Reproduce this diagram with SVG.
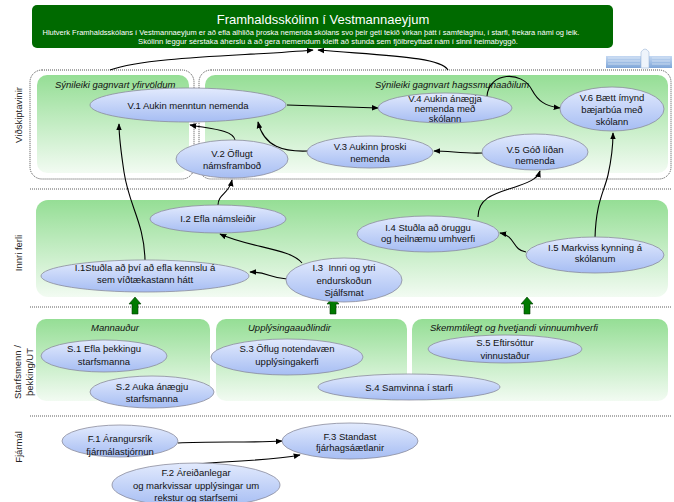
<svg xmlns="http://www.w3.org/2000/svg" width="674" height="502" viewBox="0 0 674 502">
<defs>
<linearGradient id="pg" x1="0" y1="0" x2="0" y2="1"><stop offset="0" stop-color="#95de95"/><stop offset="1" stop-color="#f2fbf2"/></linearGradient>
<linearGradient id="eg" x1="0" y1="0" x2="0" y2="1"><stop offset="0" stop-color="#e2eafd"/><stop offset="1" stop-color="#a6bdf3"/></linearGradient>
<linearGradient id="bg" x1="0" y1="0" x2="0" y2="1"><stop offset="0" stop-color="#c4d8f2"/><stop offset="1" stop-color="#7fa6d8"/></linearGradient>
<marker id="ah" viewBox="0 0 10 10" refX="9" refY="5" markerWidth="7" markerHeight="7" markerUnits="userSpaceOnUse" orient="auto"><path d="M0,1 L10,5 L0,9 z" fill="#000"/></marker>
<style>
text{font-family:"Liberation Sans",Arial,sans-serif;}
.e{fill:url(#eg);stroke:#8a8c9c;stroke-width:0.8;}
.t{font-size:9.5px;fill:#111;text-anchor:middle;}
.p{fill:url(#pg);stroke:none;}
.pl{font-size:9.5px;font-style:italic;fill:#111;}
.sep{stroke:#333;stroke-width:0.8;stroke-dasharray:1,1;fill:none;}
.db{stroke:#222;stroke-width:0.8;stroke-dasharray:1,1;fill:none;}
.c{fill:none;stroke:#000;stroke-width:1.1;marker-end:url(#ah);}
.lab{font-size:9.5px;fill:#222;text-anchor:middle;}
.ga{fill:#007a00;stroke:#003a00;stroke-width:0.6;}
</style>
</defs>

<g id="header">
<rect x="32" y="5" width="581" height="43" rx="5" fill="#006a00"/>
<text x="323" y="24" font-size="13px" fill="#fff" text-anchor="middle">Framhaldsskólinn í Vestmannaeyjum</text>
<text x="311" y="35" font-size="7.5px" fill="#fff" text-anchor="middle">Hlutverk Framhaldsskólans í Vestmannaeyjum er að efla alhliða þroska nemenda skólans svo þeir geti tekið virkan þátt í samfélaginu, í starfi, frekara námi og leik.</text>
<text x="328" y="44" font-size="7.7px" fill="#fff" text-anchor="middle">Skólinn leggur sérstaka áherslu á að gera nemendum kleift að stunda sem fjölbreyttast nám í sinni heimabyggð.</text>
</g>

<g id="building">
<rect x="606" y="56" width="66" height="12" fill="url(#bg)"/>
<path d="M608,58 H640 M608,61 H640 M608,64 H640 M652,58 H670 M652,61 H670 M652,64 H670" stroke="#e8f0fa" stroke-width="0.6"/>
<path d="M641,68 V52 Q645,46 649,52 V68 z" fill="#eef4fb" stroke="#9fb8da" stroke-width="0.6"/>
</g>

<g id="separators">
<line class="sep" x1="30" y1="189" x2="672" y2="189"/>
<line class="sep" x1="30" y1="307" x2="672" y2="307"/>
<line class="sep" x1="30" y1="416" x2="672" y2="416"/>
</g>

<g id="row-labels">
<text class="lab" transform="translate(22,115) rotate(-90)">Viðskiptavinir</text>
<text class="lab" transform="translate(22,253) rotate(-90)">Innri ferli</text>
<text class="lab" transform="translate(21,372) rotate(-90)">Starfsmenn /</text>
<text class="lab" transform="translate(33,372) rotate(-90)">þekking/UT</text>
<text class="lab" transform="translate(22,447) rotate(-90)">Fjármál</text>
</g>

<g id="panels">
<rect class="db" x="30" y="70" width="164" height="109" rx="12"/>
<rect class="db" x="199" y="70" width="472" height="109" rx="12"/>
<rect class="p" x="37" y="75" width="152" height="98" rx="10"/>
<rect class="p" x="205" y="75" width="463" height="98" rx="10"/>
<text class="pl" x="55" y="88">Sýnileiki gagnvart yfirvöldum</text>
<text class="pl" x="375" y="88">Sýnileiki gagnvart hagssmunaaðilum</text>
<rect class="p" x="36" y="200" width="632" height="97" rx="12"/>
<rect class="p" x="36" y="319" width="174" height="82" rx="10"/>
<rect class="p" x="216" y="319" width="191" height="82" rx="10"/>
<rect class="p" x="412" y="319" width="256" height="82" rx="10"/>
<text class="pl" x="115" y="331" text-anchor="middle">Mannauður</text>
<text class="pl" x="248" y="331">Upplýsingaauðlindir</text>
<text class="pl" x="430" y="331">Skemmtilegt og hvetjandi vinnuumhverfi</text>
</g>

<g id="up-arrows">
<path class="ga" d="M135,297 L141,304 L138,304 L138,314 L132,314 L132,304 L129,304 z"/>
<path class="ga" d="M333,297 L339,304 L336,304 L336,314 L330,314 L330,304 L327,304 z"/>
<path class="ga" d="M527,297 L533,304 L530,304 L530,314 L524,314 L524,304 L521,304 z"/>
</g>

<g id="connectors">
<path class="c" d="M110,70 C150,56 250,56 313,50"/>
<path class="c" d="M448,70 C440,57 390,56 318,50"/>
<path class="c" d="M287,105 C320,106 350,107 378,108"/>
<path class="c" d="M487,96 C489,72 522,70 532,90 C538,101 545,106 560,108"/>
<path class="c" d="M483,153 C465,154 450,151 434,151"/>
<path class="c" d="M308,151 C284,152 264,147 258,122"/>
<path class="c" d="M235,140 C233,130 212,129 190,125"/>
<path class="c" d="M145,260 C144,222 129,206 124,172 C121,152 119,138 119,124"/>
<path class="c" d="M218,205 C218,194 229,194 232,180"/>
<path class="c" d="M302,263 C290,248 250,248 220,234"/>
<path class="c" d="M287,279 C270,278 268,272 250,272"/>
<path class="c" d="M478,217 C478,196 498,193 518,186 C533,181 538,177 540,171"/>
<path class="c" d="M595,238 C596,202 604,192 608,175 C612,157 613,145 613,133"/>
<path class="c" d="M526,252 C512,250 516,236 500,233"/>
<path class="c" d="M178,443 C210,441 250,443 282,441"/>
<path class="c" d="M197,464 C240,460 270,461 300,455"/>
</g>

<g id="V1"><ellipse class="e" cx="188" cy="105" rx="98" ry="17"/><text class="t" x="188" y="109">V.1 Aukin menntun nemenda</text></g>
<g id="V2"><ellipse class="e" cx="232" cy="159" rx="56" ry="19"/><text class="t" x="232" y="157">V.2 Öflugt</text><text class="t" x="232" y="169">námsframboð</text></g>
<g id="V3"><ellipse class="e" cx="370" cy="152" rx="63" ry="16"/><text class="t" x="370" y="150">V.3 Aukinn þroski</text><text class="t" x="370" y="162">nemenda</text></g>
<g id="V4"><ellipse class="e" cx="445" cy="108" rx="67" ry="15"/><text class="t" x="445" y="102">V.4 Aukin ánægja</text><text class="t" x="445" y="112">nemenda með</text><text class="t" x="445" y="122">skólann</text></g>
<g id="V5"><ellipse class="e" cx="535" cy="152" rx="53" ry="18"/><text class="t" x="535" y="153">V.5 Góð líðan</text><text class="t" x="535" y="164">nemenda</text></g>
<g id="V6"><ellipse class="e" cx="612" cy="109" rx="52" ry="22"/><text class="t" x="612" y="101">V.6 Bætt ímynd</text><text class="t" x="612" y="113">bæjarbúa með</text><text class="t" x="612" y="125">skólann</text></g>

<g id="I2"><ellipse class="e" cx="218" cy="219" rx="68" ry="14"/><text class="t" x="218" y="222">I.2 Efla námsleiðir</text></g>
<g id="I1"><ellipse class="e" cx="145" cy="276" rx="104" ry="16"/><text class="t" x="145" y="271">I.1Stuðla að því að efla kennslu á</text><text class="t" x="145" y="283">sem víðtækastann hátt</text></g>
<g id="I3"><ellipse class="e" cx="344" cy="280" rx="58" ry="22"/><text class="t" x="344" y="271" xml:space="preserve">I.3  Innri og ytri</text><text class="t" x="344" y="284">endurskoðun</text><text class="t" x="344" y="296">Sjálfsmat</text></g>
<g id="I4"><ellipse class="e" cx="428" cy="234" rx="71" ry="18"/><text class="t" x="428" y="231">I.4 Stuðla að öruggu</text><text class="t" x="428" y="242">og heilnæmu umhverfi</text></g>
<g id="I5"><ellipse class="e" cx="595" cy="255" rx="69" ry="18"/><text class="t" x="595" y="251">I.5 Markviss kynning á</text><text class="t" x="595" y="262">skólanum</text></g>

<g id="S1"><ellipse class="e" cx="104" cy="356" rx="63" ry="16"/><text class="t" x="104" y="352">S.1 Efla þekkingu</text><text class="t" x="104" y="365">starfsmanna</text></g>
<g id="S2"><ellipse class="e" cx="152" cy="392" rx="62" ry="16"/><text class="t" x="152" y="390">S.2 Auka ánægju</text><text class="t" x="152" y="402">starfsmanna</text></g>
<g id="S3"><ellipse class="e" cx="287" cy="357" rx="76" ry="18"/><text class="t" x="287" y="352">S.3 Öflug notendavæn</text><text class="t" x="287" y="365">upplýsingakerfi</text></g>
<g id="S4"><ellipse class="e" cx="409" cy="387" rx="91" ry="13"/><text class="t" x="409" y="391">S.4 Samvinna í starfi</text></g>
<g id="S5"><ellipse class="e" cx="505" cy="349" rx="77" ry="14"/><text class="t" x="505" y="346">S.5 Eftirsóttur</text><text class="t" x="505" y="359">vinnustaður</text></g>

<g id="F1"><ellipse class="e" cx="120" cy="441" rx="58" ry="16"/><text class="t" x="120" y="442">F.1 Árangursrík</text><text class="t" x="120" y="455">fjármálastjórnun</text></g>
<g id="F3"><ellipse class="e" cx="350" cy="441" rx="68" ry="18"/><text class="t" x="350" y="440">F.3 Standast</text><text class="t" x="350" y="451">fjárhagsáætlanir</text></g>
<g id="F2"><ellipse class="e" cx="196" cy="485" rx="84" ry="22"/><text class="t" x="196" y="476">F.2 Áreiðanlegar</text><text class="t" x="196" y="489">og markvissar upplýsingar um</text><text class="t" x="196" y="501">rekstur og starfsemi</text></g>
</svg>
